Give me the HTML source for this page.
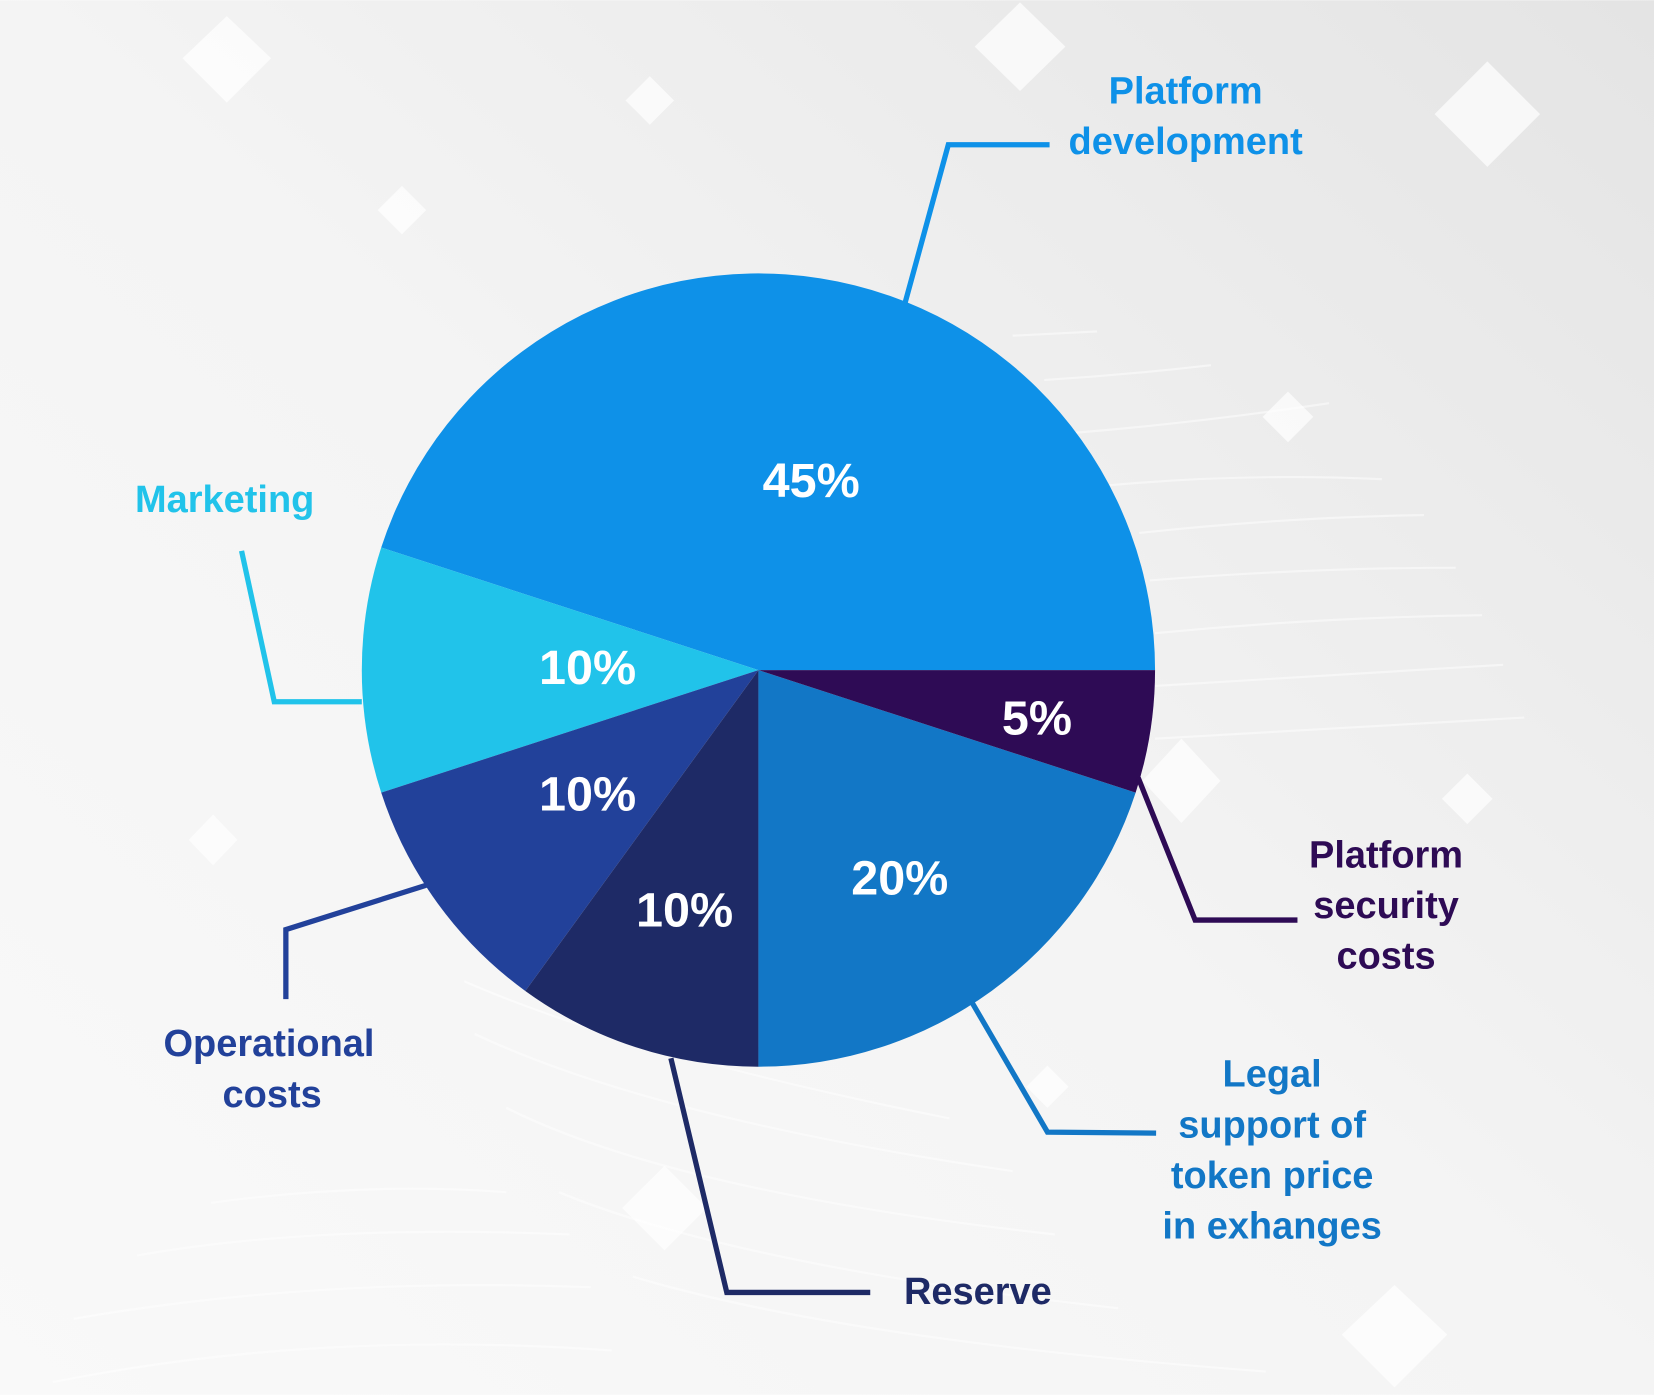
<!DOCTYPE html>
<html><head><meta charset="utf-8"><style>
html,body{margin:0;padding:0;width:1654px;height:1395px;overflow:hidden}
svg{display:block}
text{font-family:"Liberation Sans",sans-serif;font-weight:bold}
</style></head><body>
<svg width="1654" height="1395" viewBox="0 0 1568 1322" xmlns="http://www.w3.org/2000/svg">
<defs><linearGradient id="bg" x1="0" y1="1" x2="1" y2="0">
<stop offset="0" stop-color="#f9f9f9"/><stop offset="0.5" stop-color="#f4f4f4"/><stop offset="1" stop-color="#e4e4e4"/></linearGradient></defs>
<rect width="1568" height="1322" fill="url(#bg)"/>
<g fill="#ffffff" opacity="0.7">
<polygon points="215,15 257,55 215,97 173,55"/>
<polygon points="967,2 1010,44 967,86 924,44"/>
<polygon points="616,72 639,95 616,118 593,95"/>
<polygon points="381,176 404,199 381,222 358,199"/>
<polygon points="1410,58 1460,108 1410,158 1360,108"/>
<polygon points="1221,371 1245,395 1221,419 1197,395"/>
<polygon points="1391,733 1415,757 1391,781 1367,757"/>
<polygon points="1120,700 1157,740 1120,780 1083,740"/>
<polygon points="202,772 225,796 202,820 179,796"/>
<polygon points="630,1105 670,1145 630,1185 590,1145"/>
<polygon points="1322,1218 1372,1265 1322,1315 1272,1265"/>
<polygon points="993,1010 1013,1030 993,1050 973,1030"/>
</g>
<g fill="none" stroke="#ffffff" stroke-width="2" opacity="0.5">
<path d="M960,318 Q1000,316 1040,314"/><path d="M990,360 Q1070,355 1148,346"/>
<path d="M1020,410 Q1140,400 1260,382"/><path d="M1050,460 Q1180,448 1310,454"/>
<path d="M1080,505 Q1220,490 1350,488"/><path d="M1090,550 Q1240,538 1380,538"/>
<path d="M1095,600 Q1250,585 1405,583"/><path d="M1095,650 Q1260,640 1425,630"/>
<path d="M1095,700 Q1260,690 1445,680"/>
<path d="M440,930 Q600,1000 900,1060"/><path d="M450,980 Q620,1060 960,1110"/>
<path d="M480,1050 Q640,1130 1000,1170"/><path d="M530,1130 Q700,1200 1060,1240"/>
<path d="M600,1210 Q800,1270 1200,1300"/>
<path d="M200,1140 Q350,1120 480,1130"/><path d="M130,1190 Q300,1160 540,1170"/>
<path d="M70,1250 Q300,1210 560,1220"/><path d="M50,1310 Q300,1260 580,1280"/>
</g>
<path d="M719,635 L1095,635 A376,376 0 0 0 361.4,518.8 Z" fill="#0e91e8"/>
<path d="M719,635 L361.4,518.8 A376,376 0 0 0 361.4,751.2 Z" fill="#21c3ea"/>
<path d="M719,635 L361.4,751.2 A376,376 0 0 0 498,939.2 Z" fill="#22419a"/>
<path d="M719,635 L498,939.2 A376,376 0 0 0 719,1011 Z" fill="#1e2a66"/>
<path d="M719,635 L719,1011 A376,376 0 0 0 1076.6,751.2 Z" fill="#1277c6"/>
<path d="M719,635 L1076.6,751.2 A376,376 0 0 0 1095,635 Z" fill="#2e0b55"/>
<g fill="none" stroke-width="5">
<polyline points="858,287 899,137 995,137" stroke="#0e91e8"/>
<polyline points="229,522 260,665 343,665" stroke="#21c3ea"/>
<polyline points="404,839 271,881 271,947" stroke="#22419a"/>
<polyline points="636,1003 689,1225 825,1225" stroke="#1e2a66"/>
<polyline points="922,951 993,1073 1096,1074" stroke="#1277c6"/>
<polyline points="1079,737 1133,872 1230,872" stroke="#2e0b55"/>
</g>
<g fill="#ffffff" font-size="46" text-anchor="middle">
<text x="769" y="471">45%</text>
<text x="557" y="648">10%</text>
<text x="557" y="768">10%</text>
<text x="649" y="878">10%</text>
<text x="853" y="848">20%</text>
<text x="983" y="696">5%</text>
</g>
<g font-size="36" text-anchor="middle">
<text x="1124" y="98" fill="#0e91e8">Platform</text>
<text x="1124" y="146" fill="#0e91e8">development</text>
<text x="213" y="485" fill="#21c3ea">Marketing</text>
<text x="255" y="1001" fill="#22419a">Operational</text>
<text x="258" y="1049" fill="#22419a">costs</text>
<text x="927" y="1236" fill="#1e2a66">Reserve</text>
<text x="1206" y="1030" fill="#1277c6">Legal</text>
<text x="1206" y="1078" fill="#1277c6">support of</text>
<text x="1206" y="1126" fill="#1277c6">token price</text>
<text x="1206" y="1174" fill="#1277c6">in exhanges</text>
<text x="1314" y="822" fill="#2e0b55">Platform</text>
<text x="1314" y="870" fill="#2e0b55">security</text>
<text x="1314" y="918" fill="#2e0b55">costs</text>
</g>
</svg>
</body></html>
